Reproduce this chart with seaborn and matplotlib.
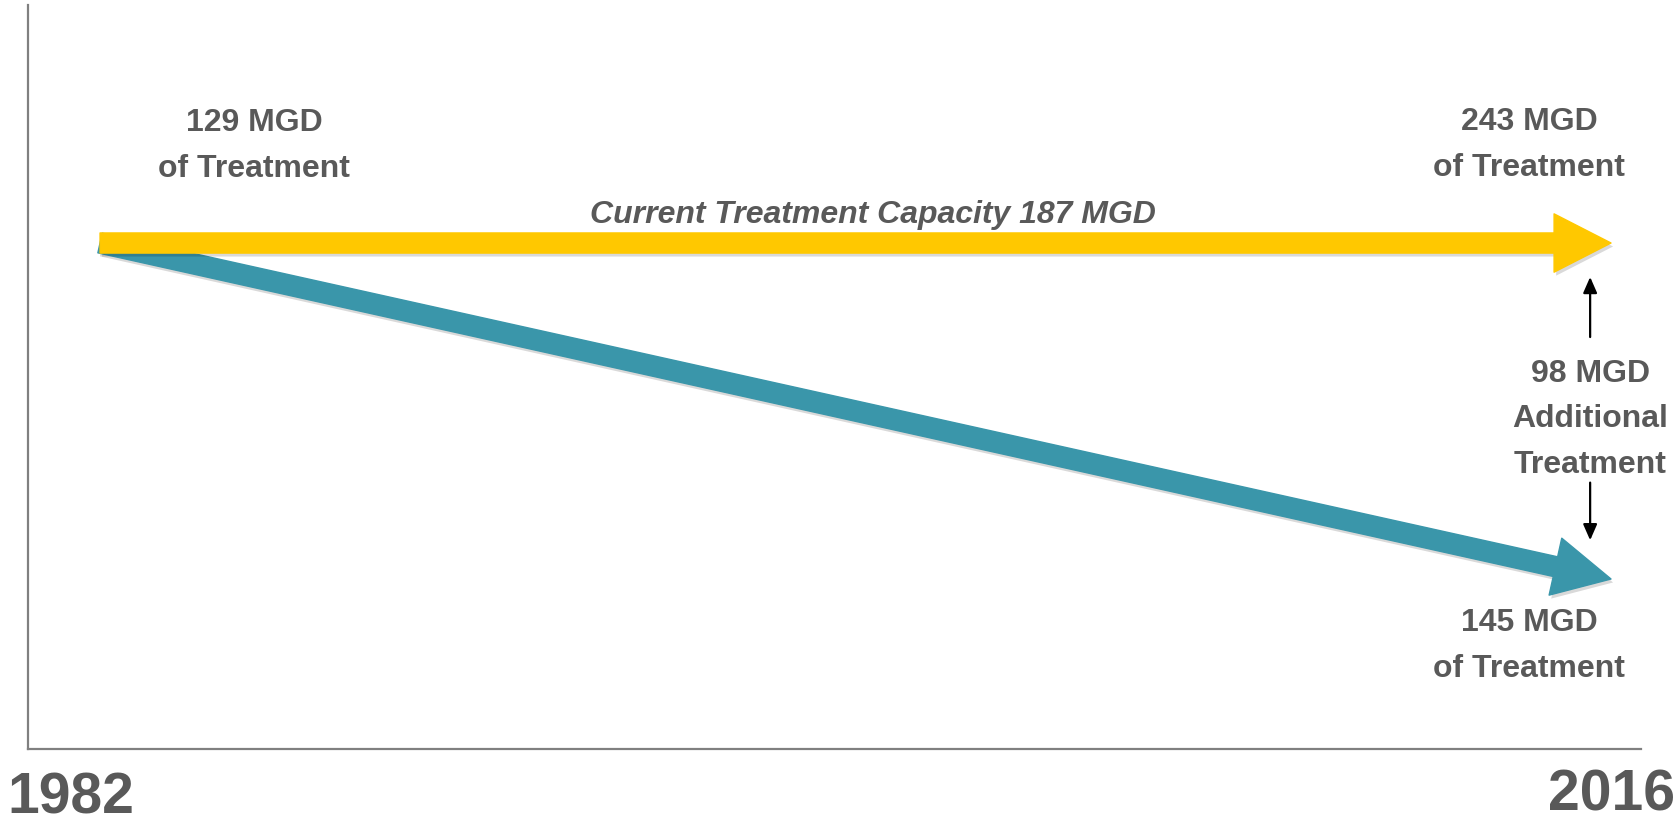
import matplotlib
matplotlib.use('Agg')
import matplotlib.pyplot as plt
from matplotlib.patches import FancyArrowPatch
import matplotlib.patheffects as pe

import seaborn as sns


years = [1982, 2016]
capacity = [187, 187]      # yellow arrow
treatment = [187, 145]     # teal arrow

labels_start = '129 MGD\nof Treatment'
labels_end_top = '243 MGD\nof Treatment'
labels_end_bottom = '145 MGD\nof Treatment'
label_gap = '98 MGD\nAdditional\nTreatment'
label_capacity = 'Current Treatment Capacity 187 MGD'
year_labels = ['1982', '2016']

YELLOW = '#FFC800'
TEAL = '#3A96AA'
TXT = '#595959'

sns.set_theme(style='white')
plt.rcParams['font.family'] = ['Liberation Sans', 'DejaVu Sans']

fig = plt.figure(figsize=(16.8, 8.23), dpi=100)
ax = fig.add_axes([0.0167, 0.0899, 0.9601, 0.904])
ax.set_xlim(1980.38, 2016.675)
ax.set_ylim(123.75, 216.75)
ax.set_xticks([])
ax.set_yticks([])
sns.despine(ax=ax, top=True, right=True)
for s in ['left', 'bottom']:
    ax.spines[s].set_color('#808080')
    ax.spines[s].set_linewidth(1.6)

shadow = [pe.SimplePatchShadow(offset=(1.5, -2.5), shadow_rgbFace='#000000', alpha=0.15), pe.Normal()]

style = 'simple,head_length=41,head_width=42,tail_width=14.5'
teal_arrow = FancyArrowPatch((years[0], treatment[0]), (years[1], treatment[1]),
                             arrowstyle=style, color=TEAL, shrinkA=0, shrinkB=0,
                             mutation_scale=1, zorder=2)
teal_arrow.set_path_effects(shadow)
ax.add_patch(teal_arrow)

yellow_arrow = FancyArrowPatch((years[0], capacity[0]), (years[1], capacity[1]),
                               arrowstyle=style, color=YELLOW, shrinkA=0, shrinkB=0,
                               mutation_scale=1, zorder=3)
yellow_arrow.set_path_effects(shadow)
ax.add_patch(yellow_arrow)

# gap arrows
ax.annotate('', xy=(2015.53, 183.1), xytext=(2015.53, 174.9),
            arrowprops=dict(arrowstyle='-|>,head_length=0.8,head_width=0.35', color='black', lw=1.6))
ax.annotate('', xy=(2015.53, 149.5), xytext=(2015.53, 157.4),
            arrowprops=dict(arrowstyle='-|>,head_length=0.8,head_width=0.35', color='black', lw=1.6))

kw = dict(ha='center', va='center', color=TXT, fontsize=23, fontweight='bold', linespacing=1.68)
ax.text(1985.47, 199.15, labels_start, **kw)
ax.text(2014.16, 199.25, labels_end_top, **kw)
ax.text(2014.16, 136.65, labels_end_bottom, **kw)
ax.text(2015.53, 164.95, label_gap, **kw)
ax.text(1999.39, 190.5, label_capacity, ha='center', va='center', color=TXT,
        fontsize=23, fontweight='bold', style='italic')

ax.text(1981.35, 117.6, year_labels[0], ha='center', va='center', color=TXT,
        fontsize=41, fontweight='bold', clip_on=False)
ax.text(2016.0, 118.0, year_labels[1], ha='center', va='center', color=TXT,
        fontsize=41, fontweight='bold', clip_on=False)

fig.savefig('out.png', dpi=100)
